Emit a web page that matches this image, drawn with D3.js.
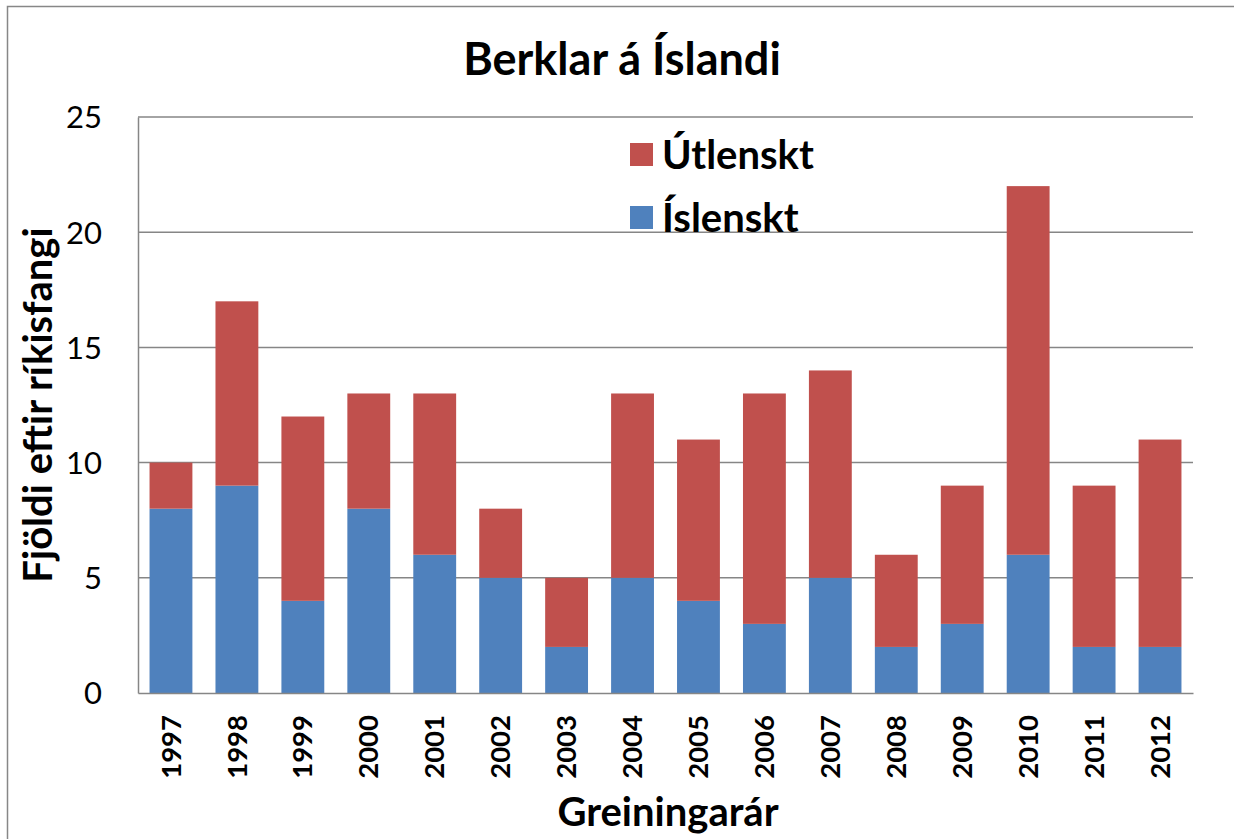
<!DOCTYPE html>
<html>
<head>
<meta charset="utf-8">
<script src="https://cdn.jsdelivr.net/npm/d3@7"></script>
<style>
  body { margin: 0; background: #fff; }
  svg { display: block; font-family: Lato, "Open Sans", sans-serif; }
</style>
</head>
<body>
<div id="chart"></div>
<script>
// data
var years = ["1997","1998","1999","2000","2001","2002","2003","2004","2005","2006","2007","2008","2009","2010","2011","2012"];
var islenskt = [8, 9, 4, 8, 6, 5, 2, 5, 4, 3, 5, 2, 3, 6, 2, 2];
var utlenskt = [2, 8, 8, 5, 7, 3, 3, 8, 7, 10, 9, 4, 6, 16, 7, 9];
var yTicks = [0, 5, 10, 15, 20, 25];

var WIDTH = 1234, HEIGHT = 839;
var plotLeft = 138, plotRight = 1193, plotTop = 117, plotBottom = 693;

var svg = d3.select('#chart').append('svg')
  .attr('width', WIDTH)
  .attr('height', HEIGHT);

// outer chart border
svg.append('rect')
  .attr('x', 7.5).attr('y', 6.5)
  .attr('width', WIDTH).attr('height', HEIGHT)
  .attr('fill', 'none')
  .attr('stroke', '#878787')
  .attr('stroke-width', 1.5);

var x = d3.scaleBand().domain(years).range([plotLeft, plotRight]).paddingInner(0.35).paddingOuter(0.175);
var y = d3.scaleLinear().domain([0, 25]).range([plotBottom, plotTop]);

// gridlines
svg.append('g')
  .selectAll('line')
  .data(yTicks.slice(1))
  .enter()
  .append('line')
  .attr('x1', plotLeft).attr('x2', plotRight)
  .attr('y1', function(d) { return y(d); })
  .attr('y2', function(d) { return y(d); })
  .attr('stroke', '#868686')
  .attr('stroke-width', 1.5);

// stacked bars
var rows = years.map(function(yr, i) {
  return { year: yr, islenskt: islenskt[i], utlenskt: utlenskt[i] };
});
var stack = d3.stack().keys(['islenskt', 'utlenskt'])(rows);
var colors = { islenskt: '#4F81BD', utlenskt: '#C0504D' };

svg.append('g')
  .selectAll('g')
  .data(stack)
  .enter()
  .append('g')
  .attr('fill', function(d) { return colors[d.key]; })
  .selectAll('rect')
  .data(function(d) { return d; })
  .enter()
  .append('rect')
  .attr('x', function(d) { return x(d.data.year); })
  .attr('y', function(d) { return y(d[1]); })
  .attr('height', function(d) { return y(d[0]) - y(d[1]); })
  .attr('width', x.bandwidth());

// y axis
var yAxis = svg.append('g')
  .attr('transform', 'translate(' + plotLeft + ',0)')
  .call(d3.axisLeft(y).tickValues(yTicks).tickSize(0).tickPadding(36));
yAxis.select('.domain').attr('stroke', '#868686').attr('stroke-width', 1.5);
yAxis.selectAll('text')
  .attr('font-family', 'Lato, sans-serif')
  .attr('font-size', 31)
  .attr('fill', '#000')
  .attr('dy', '0.35em');

// x axis
var xAxis = svg.append('g')
  .attr('transform', 'translate(0,' + plotBottom + ')')
  .call(d3.axisBottom(x).tickSize(0).tickPadding(0));
xAxis.select('.domain').attr('stroke', '#868686').attr('stroke-width', 1.5);
xAxis.selectAll('text')
  .attr('font-family', 'Lato, sans-serif')
  .attr('font-size', 27.5)
  .attr('font-weight', 'bold')
  .attr('fill', '#000')
  .attr('text-anchor', 'end')
  .attr('transform', 'rotate(-90)')
  .attr('x', -22)
  .attr('y', 0)
  .attr('dy', '0.35em');

// title
svg.append('text')
  .attr('x', 622).attr('y', 75)
  .attr('text-anchor', 'middle')
  .attr('font-size', 45)
  .attr('font-weight', 'bold')
  .text('Berklar á Íslandi');

// axis titles
svg.append('text')
  .attr('x', 668).attr('y', 826)
  .attr('text-anchor', 'middle')
  .attr('font-size', 40)
  .attr('font-weight', 'bold')
  .text('Greiningarár');

svg.append('text')
  .attr('transform', 'translate(52,405) rotate(-90)')
  .attr('text-anchor', 'middle')
  .attr('font-size', 40)
  .attr('font-weight', 'bold')
  .text('Fjöldi eftir ríkisfangi');

// legend
var legend = [
  { label: 'Útlenskt', key: 'utlenskt', y: 155 },
  { label: 'Íslenskt', key: 'islenskt', y: 218 }
];
var lg = svg.append('g').selectAll('g')
  .data(legend)
  .enter()
  .append('g')
  .attr('transform', function(d) { return 'translate(630,' + d.y + ')'; });
lg.append('rect')
  .attr('x', 0).attr('y', -12)
  .attr('width', 23).attr('height', 23)
  .attr('fill', function(d) { return colors[d.key]; });
lg.append('text')
  .attr('x', 32).attr('y', 0)
  .attr('dy', '0.35em')
  .attr('font-size', 40)
  .attr('font-weight', 'bold')
  .text(function(d) { return d.label; });
</script>
</body>
</html>
